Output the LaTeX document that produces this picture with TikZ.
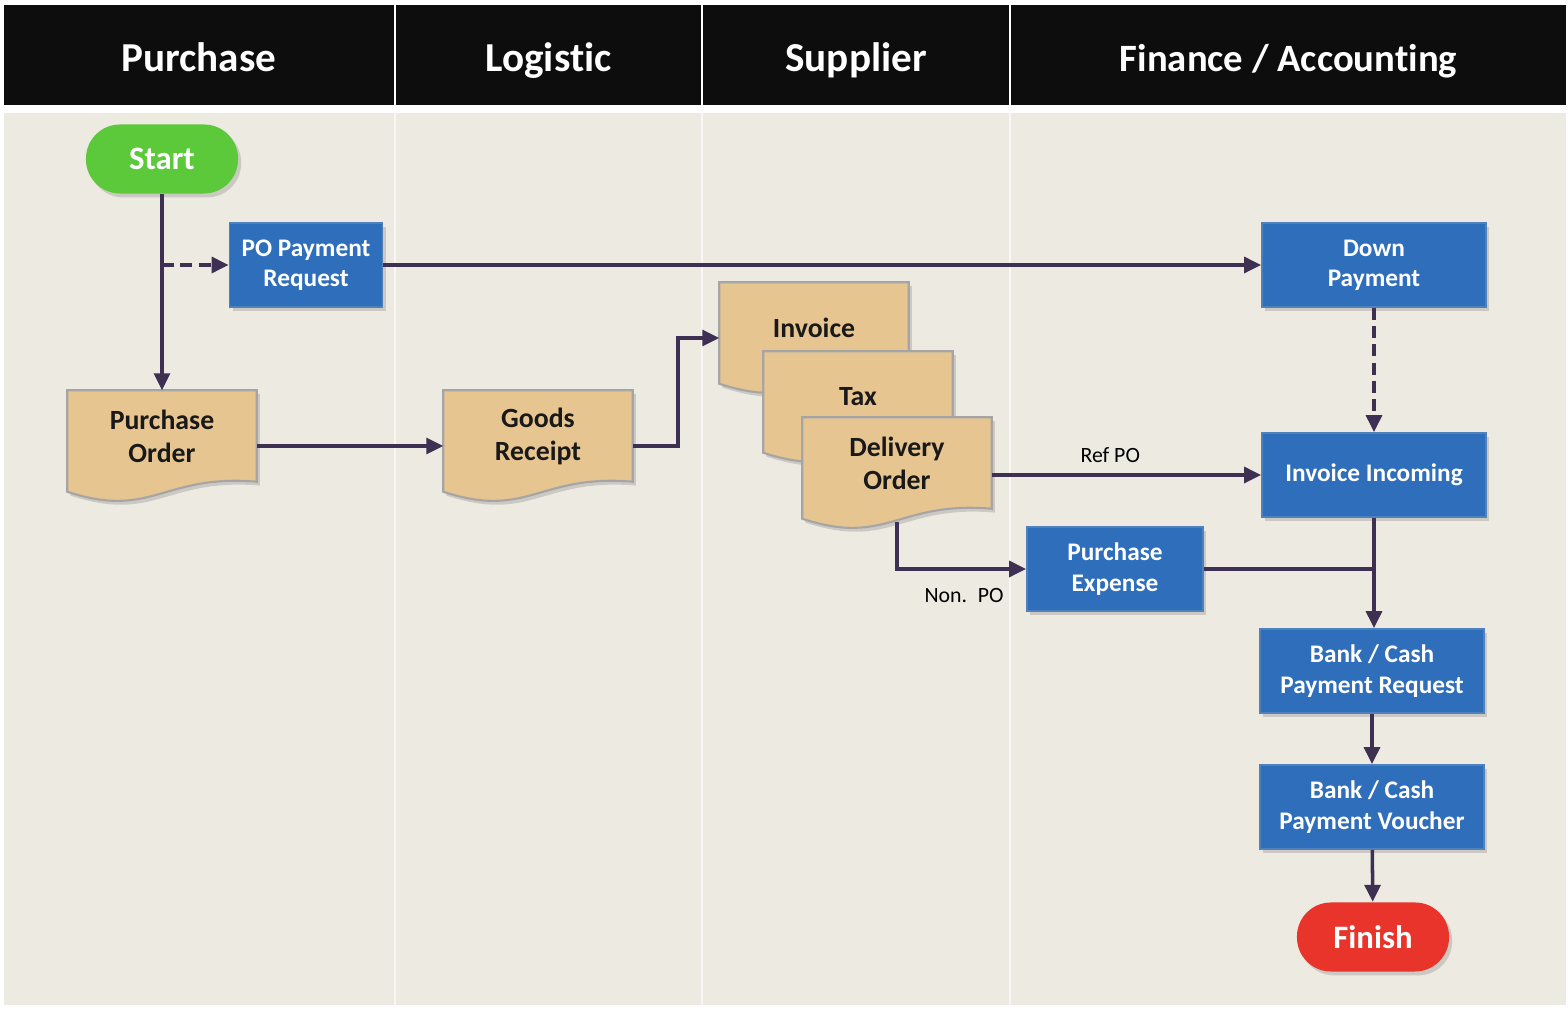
\documentclass[tikz,border=0pt]{standalone}
\usepackage{fontspec}
\setmainfont{Carlito}[Ligatures=CommonOff]
\usetikzlibrary{arrows.meta,calc,shadows}

\definecolor{headblack}{HTML}{0D0D0D}
\definecolor{lanebg}{HTML}{EDEAE2}
\definecolor{laneline}{HTML}{F8F7F3}
\definecolor{procblue}{HTML}{2F6EBA}
\definecolor{procedge}{HTML}{4F81BD}
\definecolor{docfill}{HTML}{E7C591}
\definecolor{docedge}{HTML}{A5A5A5}
\definecolor{startgreen}{HTML}{5CC93B}
\definecolor{finishred}{HTML}{E8342A}
\definecolor{flowline}{HTML}{3D3052}

\pgfdeclarelayer{lanes}
\pgfdeclarelayer{docs}
\pgfsetlayers{lanes,docs,main}

\tikzset{
  head/.style={rectangle, fill=headblack, minimum height=1cm, inner sep=0pt,
    text height=11pt, text depth=1.4pt,
    text=white, font=\fontsize{11.7}{14}\selectfont\bfseries},
  proc/.style={rectangle, fill=procblue, draw=procedge, line width=0.5pt,
    minimum height=0.84cm, inner sep=1pt, align=center, text=white,
    font=\fontsize{7.2}{8.6}\selectfont\bfseries,
    drop shadow={shadow xshift=0.9pt, shadow yshift=-1.1pt, opacity=0.3}},
  term/.style={rectangle, rounded corners=0.34cm, minimum width=1.52cm,
    minimum height=0.69cm, text=white, font=\fontsize{9.3}{11}\selectfont\bfseries,
    drop shadow={shadow xshift=0.9pt, shadow yshift=-1.1pt, opacity=0.3}},
  doc/.style={rectangle, minimum width=1.88cm, minimum height=0.9cm,
    inner sep=1pt, align=center, text=black!90,
    font=\fontsize{7.9}{9.4}\selectfont\bfseries},
  docpaper/.style={fill=docfill, draw=docedge, line width=0.6pt,
    drop shadow={shadow xshift=0.9pt, shadow yshift=-1.1pt, opacity=0.3}},
  flowline/.style={draw=flowline, line width=1pt},
  flow/.style={flowline, -{Triangle[length=4.8pt,width=4.5pt]}},
  flowdash/.style={flow, dash pattern=on 3.4pt off 1.8pt},
  lbl/.style={text=black, font=\fontsize{6.2}{7.4}\selectfont, inner sep=2pt}
}

% paper with a wavy lower edge, drawn behind a doc node
\newcommand{\docshape}[1]{%
  \begin{pgfonlayer}{docs}
    \path[docpaper] (#1.north west) -- (#1.north east) -- (#1.south east)
      .. controls ($(#1.south east)+(-94,-8)$) and ($(#1.south west)+(85,38)$)
      .. ($(#1.south west)+(0,10)$) -- cycle;
  \end{pgfonlayer}}

\begin{document}
\begin{tikzpicture}[x=0.01cm, y=-0.01cm]
  \useasboundingbox (0,0) rectangle (1568,1010);

  % Swim lanes
  \begin{pgfonlayer}{lanes}
    \fill[white] (0,0) rectangle (1568,1010);
    \fill[lanebg] (4,113) rectangle (1566,1005);
    \foreach \x in {395,702,1010}
      \draw[laneline, line width=0.6pt] (\x,113) -- (\x,1005);
  \end{pgfonlayer}

  % Lane headers
  \node[head, minimum width=3.9cm] (hpurchase) at (199,55) {Purchase};
  \node[head, minimum width=3.05cm] (hlogistic) at (548.5,55) {Logistic};
  \node[head, minimum width=3.06cm] (hsupplier) at (856,55) {Supplier};
  \node[head, minimum width=5.55cm, font=\fontsize{11}{14}\selectfont\bfseries]
    (hfinance) at (1288.5,55) {Finance / Accounting};

  % Steps
  \node[term, fill=startgreen] (start) at (162,159) {Start};
  \node[proc, minimum width=1.53cm] (popay) at (306,265) {PO Payment\\Request};
  \node[proc, minimum width=2.24cm] (down) at (1374,265) {Down\\Payment};
  \node[doc] (po) at (162,436) {Purchase\\Order};
  \node[doc] (gr) at (538,436) {Goods\\Receipt};
  \node[doc] (inv) at (814,328) {Invoice};
  \node[doc] (tax) at (858,397) {Tax};
  \node[doc] (do) at (897,463) {Delivery\\Order};
  \node[proc, minimum width=2.24cm] (inc) at (1374,475) {Invoice Incoming};
  \node[proc, minimum width=1.76cm] (pexp) at (1115,569) {Purchase\\Expense};
  \node[proc, minimum width=2.24cm] (bpr) at (1372,671) {Bank / Cash\\Payment Request};
  \node[proc, minimum width=2.24cm] (bpv) at (1372,807) {Bank / Cash\\Payment Voucher};
  \node[term, fill=finishred] (finish) at (1373,937) {Finish};

  % Documents
  \docshape{po}
  \docshape{gr}
  \docshape{inv}
  \docshape{tax}
  \docshape{do}

  % Flow
  \draw[flow] (start) -- (po);
  \draw[flowdash] (start.south |- popay.west) -- (popay.west);
  \draw[flow] (popay) -- (down);
  \draw[flowdash] (down) -- (inc);
  \draw[flow] ($(po.east)+(0,10)$) -- ($(gr.west)+(0,10)$);
  \draw[flow] ($(gr.east)+(0,10)$) -- ++(45,0) |- ($(inv.west)+(0,10)$);
  \draw[flow] (inc.west -| do.east) -- node[lbl, above=1pt, pos=0.44] {Ref PO} (inc.west);
  \draw[flow] ($(do.south)+(0,13)$) |- node[lbl, below=3pt, pos=0.76] {Non.\enspace PO} (pexp.west);
  \draw[flow] (inc) -- (inc.south |- bpr.north);
  \draw[flowline] (pexp.east) -- (pexp.east -| inc.south);
  \draw[flow] (bpr) -- (bpv);
  \draw[flow] (bpv) -- (finish);
\end{tikzpicture}
\end{document}
